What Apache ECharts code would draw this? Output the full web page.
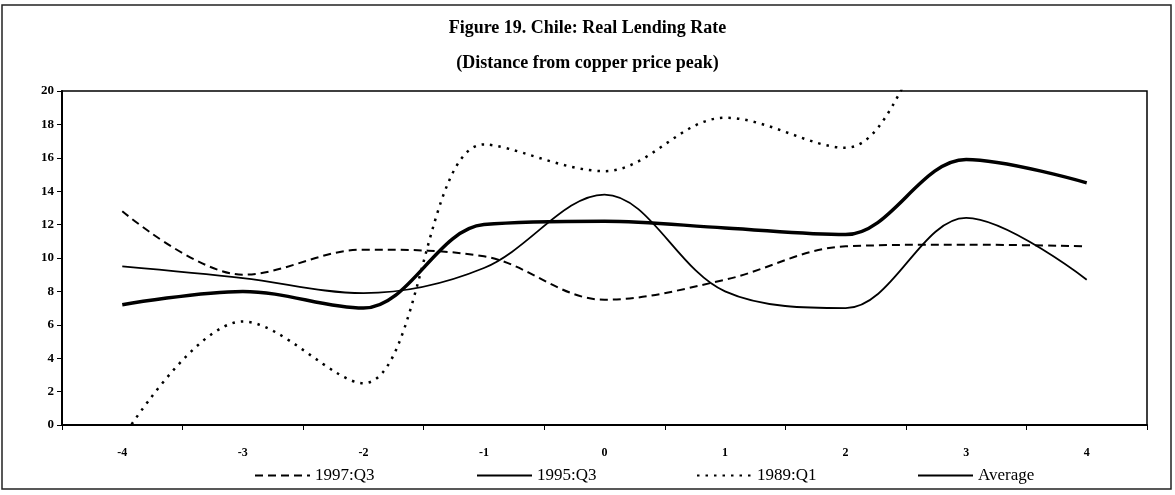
<!DOCTYPE html>
<html>
<head>
<meta charset="utf-8">
<script src="https://cdn.jsdelivr.net/npm/echarts@6/dist/echarts.min.js"></script>
<style>
  html, body { margin: 0; padding: 0; background: #fff; }
  #chart { width: 1175px; height: 495px; }
</style>
</head>
<body>
<div id="chart"></div>
<script>
// quarters relative to the copper price peak
const quarters = ['-4', '-3', '-2', '-1', '0', '1', '2', '3', '4']
const yTicks = [0, 2, 4, 6, 8, 10, 12, 14, 16, 18, 20]

// real lending rate
const ep1997q3 = [12.8, 9.0, 10.5, 10.1, 7.5, 8.7, 10.7, 10.8, 10.7]
const ep1995q3 = [9.5, 8.8, 7.9, 9.4, 13.8, 8.0, 7.0, 12.4, 8.7]
const ep1989q1 = [-0.8, 6.2, 2.5, 16.8, 15.2, 18.4, 16.6, 24.5, 24.1]   // last two run off the top
const average  = [7.2, 8.0, 7.0, 12.0, 12.2, 11.8, 11.4, 15.9, 14.5]

const SERIF = '"Liberation Serif", "DejaVu Serif", serif'

const chart = echarts.init(document.getElementById('chart'))

function lineSeries(name, data, width, type) {
  return {
    name,
    type: 'line',
    data,
    smooth: 0.35,
    symbol: 'none',
    clip: true,
    lineStyle: { color: '#000', width, type },
    itemStyle: { color: '#000' },
  }
}

// one legend box per entry so they sit where the original has them
function legendAt(name, left) {
  return {
    data: [name],
    left,
    top: 462,
    itemWidth: 55,
    itemHeight: 12,
    itemStyle: { opacity: 0 },
    textStyle: { fontFamily: SERIF, fontSize: 17, color: '#000' },
  }
}

chart.setOption({
  backgroundColor: '#fff',
  animation: false,
  title: {
    text: 'Figure 19. Chile: Real Lending Rate\n(Distance from copper price peak)',
    left: 'center',
    top: 6,
    textStyle: { fontFamily: SERIF, fontSize: 18, fontWeight: 'bold', color: '#000', lineHeight: 35 },
  },
  graphic: [
    {
      type: 'rect',
      shape: { x: 2, y: 5, width: 1169, height: 484 },
      style: { fill: 'none', stroke: '#222', lineWidth: 1.5 },
      silent: true,
    },
  ],
  legend: [
    legendAt('1997:Q3', 249),
    legendAt('1995:Q3', 471),
    legendAt('1989:Q1', 691),
    legendAt('Average', 912),
  ],
  grid: {
    left: 62, right: 28, top: 91, bottom: 70,
    show: true, borderColor: '#000', borderWidth: 1.5,
  },
  xAxis: {
    type: 'category',
    data: quarters,
    boundaryGap: true,
    axisLine: { lineStyle: { color: '#000', width: 2 } },
    axisTick: { show: true, inside: false, length: 5, lineStyle: { color: '#000' } },
    axisLabel: { color: '#000', fontFamily: SERIF, fontSize: 12, fontWeight: 'bold', margin: 22 },
    splitLine: { show: false },
  },
  yAxis: {
    type: 'value',
    min: yTicks[0],
    max: yTicks[yTicks.length - 1],
    interval: yTicks[1] - yTicks[0],
    axisLine: { show: true, lineStyle: { color: '#000', width: 2 } },
    axisTick: { show: true, inside: false, length: 5, lineStyle: { color: '#000' } },
    axisLabel: { color: '#000', fontFamily: SERIF, fontSize: 13, fontWeight: 'bold', margin: 8 },
    splitLine: { show: false },
  },
  series: [
    lineSeries('1997:Q3', ep1997q3, 2, [8, 5]),
    lineSeries('1995:Q3', ep1995q3, 1.8, 'solid'),
    lineSeries('1989:Q1', ep1989q1, 2.5, [2.5, 6]),
    lineSeries('Average', average, 3.5, 'solid'),
  ],
})
</script>
</body>
</html>
